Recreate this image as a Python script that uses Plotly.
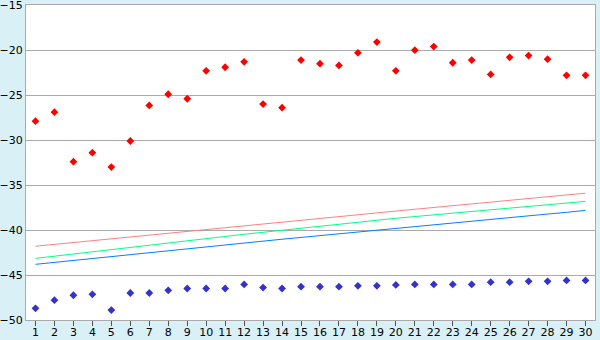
import plotly.graph_objects as go

categories = list(range(1, 31))

red_points = [-27.9, -26.9, -32.4, -31.4, -33.0, -30.1, -26.15, -24.9, -25.4, -22.3,
              -21.9, -21.3, -26.0, -26.4, -21.1, -21.5, -21.7, -20.3, -19.1, -22.3,
              -20.0, -19.6, -21.4, -21.1, -22.7, -20.8, -20.6, -21.0, -22.8, -22.8]

blue_points = [-48.7, -47.8, -47.25, -47.15, -48.9, -47.0, -47.0, -46.7, -46.5, -46.5,
               -46.5, -46.05, -46.4, -46.5, -46.3, -46.3, -46.3, -46.2, -46.2, -46.1,
               -46.05, -46.05, -46.05, -46.05, -45.8, -45.8, -45.7, -45.7, -45.6, -45.6]

red_line = [-41.80, -41.59, -41.38, -41.18, -40.97, -40.76, -40.55, -40.34, -40.14, -39.93,
            -39.72, -39.52, -39.32, -39.11, -38.91, -38.71, -38.50, -38.30, -38.10, -37.89,
            -37.69, -37.49, -37.29, -37.09, -36.89, -36.70, -36.50, -36.30, -36.10, -35.90]

green_line = [-43.15, -42.90, -42.66, -42.41, -42.17, -41.92, -41.67, -41.43, -41.18, -40.94,
              -40.69, -40.47, -40.25, -40.02, -39.80, -39.58, -39.36, -39.14, -38.91, -38.69,
              -38.50, -38.31, -38.12, -37.94, -37.75, -37.56, -37.37, -37.18, -37.00, -36.81]

blue_line = [-43.81, -43.59, -43.37, -43.15, -42.92, -42.70, -42.48, -42.26, -42.04, -41.82,
             -41.62, -41.42, -41.22, -41.02, -40.82, -40.62, -40.40, -40.18, -39.96, -39.74,
             -39.55, -39.36, -39.17, -38.98, -38.79, -38.60, -38.41, -38.22, -38.03, -37.81]

y_ticks = [-50, -45, -40, -35, -30, -25, -20, -15]

fig = go.Figure()
fig.add_trace(go.Scatter(x=categories, y=red_line, mode="lines",
                         line=dict(color="#ff8080", width=1), hoverinfo="skip"))
fig.add_trace(go.Scatter(x=categories, y=green_line, mode="lines",
                         line=dict(color="#00ff80", width=1), hoverinfo="skip"))
fig.add_trace(go.Scatter(x=categories, y=blue_line, mode="lines",
                         line=dict(color="#0080ff", width=1), hoverinfo="skip"))
fig.add_trace(go.Scatter(x=categories, y=red_points, mode="markers",
                         marker=dict(symbol="diamond", size=6, color="#ff0000")))
fig.add_trace(go.Scatter(x=categories, y=blue_points, mode="markers",
                         marker=dict(symbol="diamond", size=6, color="#3333cc")))

fig.update_layout(
    width=600, height=340,
    margin=dict(l=26, r=5, t=5, b=20),
    paper_bgcolor="#d9f0f7",
    plot_bgcolor="#ffffff",
    showlegend=False,
    font=dict(family="DejaVu Sans", size=11, color="#000000"),
)
fig.update_xaxes(
    range=[0.5, 30.5], tickmode="array", tickvals=categories,
    ticktext=[str(c) for c in categories],
    showgrid=False, zeroline=False, automargin=False,
    showline=True, linecolor="#aaaaaa", linewidth=1, mirror=True,
    ticks="outside", ticklen=5, tickcolor="#555555", tickwidth=1,
    tickfont=dict(size=11), fixedrange=True,
    ticklabeloverflow="allow", ticklabelstandoff=-3,
)
fig.update_yaxes(
    range=[-50, -14.98], tickmode="array", tickvals=y_ticks,
    showgrid=True, gridcolor="#aaaaaa", gridwidth=1, zeroline=False, automargin=False,
    showline=True, linecolor="#aaaaaa", linewidth=1, mirror=True,
    ticks="", tickfont=dict(size=11), fixedrange=True,
    ticklabeloverflow="allow",
)

fig.write_html("out.html", config={"displayModeBar": False})
